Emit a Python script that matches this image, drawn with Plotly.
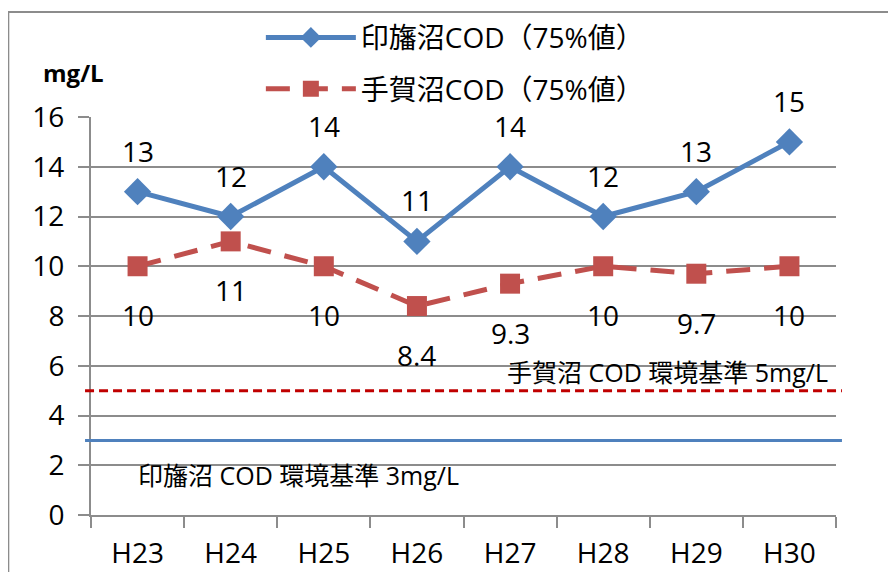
import plotly.graph_objects as go

years = ["H23", "H24", "H25", "H26", "H27", "H28", "H29", "H30"]
inba = [13, 12, 14, 11, 14, 12, 13, 15]
teganuma = [10, 11, 10, 8.4, 9.3, 10, 9.7, 10]
inba_labels = ["13", "12", "14", "11", "14", "12", "13", "15"]
tega_labels = ["10", "11", "10", "8.4", "9.3", "10", "9.7", "10"]
inba_std = 3
tega_std = 5
name_inba = "印旛沼COD（75%値）"
name_tega = "手賀沼COD（75%値）"
std_text_inba = "印旛沼 COD 環境基準 3mg/L"
std_text_tega = "手賀沼 COD 環境基準 5mg/L"
y_title = "mg/L"

FONT = "Open Sans, Noto Sans CJK JP"
BLUE = "#4F81BD"
RED = "#C0504D"
GRID = "#8C8C8C"

fig = go.Figure()
fig.add_trace(go.Scatter(
    x=years, y=inba, name=name_inba, mode="lines+markers",
    line=dict(color=BLUE, width=5),
    marker=dict(symbol="diamond", size=21, color=BLUE),
    legendgroup="a",
))
fig.add_trace(go.Scatter(
    x=years, y=teganuma, name=name_tega, mode="lines+markers",
    line=dict(color=RED, width=5, dash="24px,14px"),
    marker=dict(symbol="square", size=20, color=RED),
    legendgroup="b",
))

annotations = []
for x, y, t in zip(years, inba, inba_labels):
    annotations.append(dict(x=x, y=y, text=t, showarrow=False, yshift=41,
                            font=dict(family=FONT, size=28, color="black")))
for x, y, t in zip(years, teganuma, tega_labels):
    annotations.append(dict(x=x, y=y, text=t, showarrow=False, yshift=-49,
                            font=dict(family=FONT, size=28, color="black")))
annotations.append(dict(xref="paper", x=0.992, y=tega_std + 0.75, xanchor="right",
                        yanchor="middle", text=std_text_tega, showarrow=False,
                        font=dict(family=FONT, size=25, color="black")))
annotations.append(dict(xref="paper", x=0.0604, y=inba_std - 1.4, xanchor="left",
                        yanchor="middle", text=std_text_inba, showarrow=False,
                        font=dict(family=FONT, size=25, color="black")))
annotations.append(dict(xref="paper", yref="paper", x=-0.023, y=1.113,
                        xanchor="center", yanchor="middle",
                        text="<b>" + y_title + "</b>", showarrow=False,
                        font=dict(family=FONT, size=24, color="black")))

shapes = [
    dict(type="line", xref="paper", yref="y", x0=-0.008, x1=1.008,
         y0=tega_std, y1=tega_std, line=dict(color="#C00000", width=3, dash="9px,5px")),
    dict(type="line", xref="paper", yref="y", x0=-0.008, x1=1.008,
         y0=inba_std, y1=inba_std, line=dict(color=BLUE, width=3)),
    dict(type="rect", xref="paper", yref="paper", x0=-0.111, x1=1.2,
         y0=-0.3, y1=1.264, line=dict(color="#8C8C8C", width=2), layer="below"),
]

fig.update_layout(
    width=896, height=572,
    margin=dict(l=83, r=68, t=109, b=65, autoexpand=False),
    paper_bgcolor="white", plot_bgcolor="white",
    font=dict(family=FONT, size=28, color="black"),
    showlegend=True,
    legend=dict(x=0.228, y=1.262, xanchor="left", yanchor="top",
                font=dict(family=FONT, size=28), itemwidth=90,
                tracegroupgap=12, bgcolor="rgba(0,0,0,0)"),
    annotations=annotations,
    shapes=shapes,
)
fig.update_xaxes(type="category", tickson="boundaries", ticks="outside", ticklen=11,
                 tickcolor=GRID, tickwidth=2, showline=True, linecolor=GRID, linewidth=2,
                 showgrid=False, range=[-0.5, 7.5], ticklabelstandoff=12,
                 tickfont=dict(family=FONT, size=28))
fig.update_yaxes(range=[0, 16], dtick=2, ticks="outside", ticklen=11, tickcolor=GRID,
                 tickwidth=2, showline=True, linecolor=GRID, linewidth=2,
                 gridcolor=GRID, gridwidth=2, zeroline=False, ticklabelstandoff=8,
                 tickfont=dict(family=FONT, size=28))

fig.write_html("out.html")
